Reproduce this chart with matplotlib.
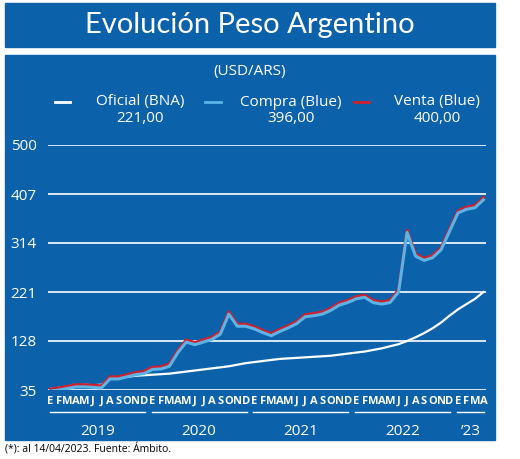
import matplotlib.pyplot as plt
import matplotlib.patches as mpatches
import matplotlib.transforms as mtransforms
import numpy as np

plt.rcParams['font.family'] = ['Open Sans', 'DejaVu Sans']

# monthly values, Jan 2019 .. Apr 2023
venta = [37, 39, 42, 45, 45, 44, 43, 60, 60, 64, 68, 70,
         78, 79, 84, 110, 130, 125, 130, 135, 145, 183, 160, 160,
         155, 148, 142, 150, 157, 165, 178, 180, 183, 190, 200, 205,
         212, 215, 205, 202, 205, 225, 338, 293, 285, 290, 305, 340,
         375, 382, 385, 400]
compra = [v - 4 for v in venta]
oficial = [37, 39, 42, 44, 45, 44, 45, 56, 58, 60, 62, 63,
           64, 65, 66, 68, 70, 72, 74, 76, 78, 80, 83, 86,
           88, 90, 92, 94, 95, 96, 97, 98, 99, 100, 102, 104,
           106, 108, 111, 114, 118, 122, 128, 135, 143, 152, 163, 176,
           188, 198, 208, 221]
months = list("EFMAMJJASOND") * 4 + list("EFMA")
years = ["2019", "2020", "2021", "2022", "\u201923"]
yticks = [35, 128, 221, 314, 407, 500]

panel = "#0b62ab"
fig = plt.figure(figsize=(5.2, 4.59), dpi=100)
fig.patches.append(mpatches.Rectangle((5/520, 1-47/459), 490/520, 44/459,
                                      transform=fig.transFigure, color=panel, zorder=-5))
fig.patches.append(mpatches.Rectangle((5/520, 1-440/459), 490/520, 385/459,
                                      transform=fig.transFigure, color=panel, zorder=-5))
fig.text(0.48, 1-25/459, "Evolución Peso Argentino", color="white", fontsize=21,
         ha="center", va="center", family=["Lato", "DejaVu Sans"])
fig.text(0.48, 1-72/459, "(USD/ARS)", color="white", fontsize=11, ha="center", va="center")

ax = fig.add_axes([48/520, 69/459, 438/520, 245/459])
ax.set_facecolor(panel)
x = np.arange(len(venta))
ax.plot(x, oficial, color="white", lw=1.6, label="Oficial (BNA)")
ax.plot(x, venta, color="#d0202e", lw=2.2, label="Venta (Blue)")
ax.plot(x, compra, color="#5ab4e5", lw=2.2, label="Compra (Blue)")
ax.set_xlim(-0.3, len(venta) - 0.7)
ax.set_ylim(35, 500)
ax.set_yticks(yticks)
ax.yaxis.grid(True, color="white", lw=1.2)
ax.set_axisbelow(True)
for s in ax.spines.values():
    s.set_visible(False)
ax.tick_params(axis="y", length=0, colors="white", labelsize=11, pad=8)
ax.set_xticks([])

trans = mtransforms.blended_transform_factory(ax.transData, ax.transAxes)
for i, m in enumerate(months):
    ax.text(i, -0.045, m, transform=trans, color="white", fontsize=8,
            ha="center", va="center", fontweight="bold")
for k, y in enumerate(years):
    a = 12 * k - 0.3
    b = min(12 * k + 11.3, len(venta) - 0.7)
    ax.plot([a + 0.2, b - 0.2], [-0.09, -0.09], transform=trans, color="white",
            lw=1, clip_on=False)
    ax.text((a + b) / 2, -0.17, y, transform=trans, color="white", fontsize=11,
            ha="center", va="center")

# legend
legend = [("Oficial (BNA)", "221,00", "white", 0.27, 0.125),
          ("Compra (Blue)", "396,00", "#5ab4e5", 0.56, 0.125),
          ("Venta (Blue)", "400,00", "#d0202e", 0.84, 0.12)]
for name, val, col, xc, half in legend:
    fig.text(xc, 1-102/459, name, color="white", fontsize=11, ha="center", va="center")
    fig.text(xc, 1-118/459, val, color="white", fontsize=11, ha="center", va="center")
    x0 = xc - half
    fig.lines.append(plt.Line2D([x0 - 0.04, x0 - 0.01], [1-102/459]*2, color=col, lw=2,
                                transform=fig.transFigure))

fig.text(5/520, 1-450/459, "(*): al 14/04/2023. Fuente: Ámbito.", fontsize=7.5,
         ha="left", va="center", color="black")

fig.savefig("out.png", dpi=100)
